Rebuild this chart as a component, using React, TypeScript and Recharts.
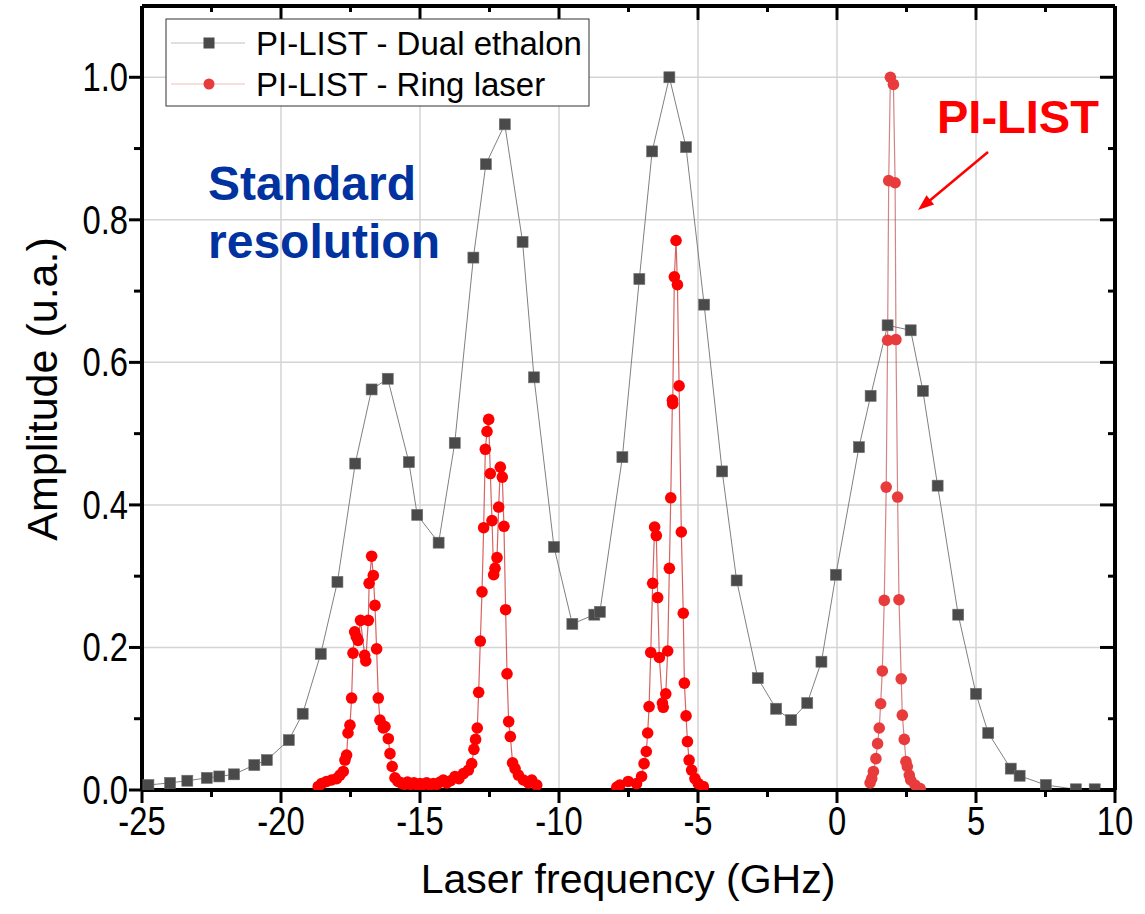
import { LineChart, Line, XAxis, YAxis, ReferenceLine } from "recharts";

// PI-LIST - Dual ethalon (black squares)
const dualX = [
  -24.77, -23.99, -23.37, -22.67, -22.22, -21.69, -20.96, -20.51, -19.72, -19.22,
  -18.57, -17.97, -17.33, -16.74, -16.16, -15.4, -15.1, -14.33, -13.75, -13.08,
  -12.63, -11.95, -11.31, -10.9, -10.18, -9.52, -8.73, -8.53, -7.72, -7.11,
  -6.65, -6.03, -5.43, -4.78, -4.13, -3.61, -2.85, -2.19, -1.65, -1.07,
  -0.56, -0.04, 0.79, 1.21, 1.82, 2.65, 3.09, 3.62, 4.36, 5.0,
  5.44, 6.25, 6.57, 7.51, 8.59, 9.27,
];
const dualY = [
  0.007, 0.01, 0.013, 0.017, 0.019, 0.022, 0.035, 0.042, 0.07, 0.107,
  0.191, 0.292, 0.458, 0.562, 0.577, 0.46, 0.386, 0.347, 0.487, 0.747,
  0.878, 0.934, 0.769, 0.579, 0.341, 0.233, 0.246, 0.25, 0.467, 0.717,
  0.896, 1.0, 0.902, 0.681, 0.447, 0.294, 0.157, 0.114, 0.098, 0.122,
  0.18, 0.302, 0.481, 0.553, 0.652, 0.645, 0.56, 0.427, 0.246, 0.135,
  0.08, 0.03, 0.02, 0.007, 0.001, 0.001,
];

// PI-LIST - Ring laser, first three peaks (null breaks the trace)
const ringX = [
  -18.66, -18.54, -18.36, -18.18, -18.0, -17.88, -17.76, -17.7, -17.64, -17.59,
  -17.52, -17.46, -17.41, -17.35, -17.29, -17.23, -17.14, -16.99, -16.95, -16.86,
  -16.83, -16.74, -16.68, -16.62, -16.56, -16.5, -16.44, -16.32, -16.26, -16.14,
  -16.08, -16.0, -15.9, -15.79, -15.68, -15.56, -15.45, -15.34, -15.22, -15.1,
  -15.0, -14.88, -14.76, -14.64, -14.52, -14.4, -14.28, -14.16, -14.04, -13.9,
  -13.74, -13.6, -13.44, -13.26, -13.14, -13.06, -13.0, -12.94, -12.89, -12.83,
  -12.77, -12.71, -12.65, -12.59, -12.53, -12.47, -12.41, -12.35, -12.3, -12.23,
  -12.17, -12.11, -12.04, -11.98, -11.92, -11.87, -11.81, -11.75, -11.67, -11.58,
  -11.46, -11.28, -11.1, -10.98, -10.8, -9.0,
  -7.92, -7.81, -7.51, -7.21, -7.03, -6.94, -6.86, -6.81, -6.76, -6.7,
  -6.63, -6.56, -6.5, -6.45, -6.39, -6.28, -6.25, -6.16, -6.09, -6.03,
  -5.98, -5.92, -5.91, -5.85, -5.79, -5.74, -5.68, -5.6, -5.53, -5.49,
  -5.43, -5.38, -5.32, -5.23, -5.11, -4.99, -4.81,
];
const ringY = [
  0.005, 0.009, 0.012, 0.014, 0.016, 0.021, 0.026, 0.042, 0.049, 0.08,
  0.091, 0.129, 0.192, 0.222, 0.215, 0.21, 0.238, 0.189, 0.181, 0.238,
  0.29, 0.328, 0.301, 0.259, 0.198, 0.129, 0.098, 0.087, 0.089, 0.072,
  0.051, 0.033, 0.017, 0.012, 0.01, 0.008, 0.011, 0.008, 0.01, 0.007,
  0.009, 0.008, 0.01, 0.007, 0.009, 0.008, 0.011, 0.014, 0.01, 0.013,
  0.019, 0.016, 0.023, 0.028, 0.037, 0.057, 0.071, 0.087, 0.137, 0.209,
  0.278, 0.368, 0.478, 0.503, 0.52, 0.444, 0.378, 0.302, 0.311, 0.326,
  0.397, 0.453, 0.439, 0.37, 0.253, 0.163, 0.096, 0.075, 0.038, 0.03,
  0.021, 0.014, 0.01, 0.014, 0.007, null,
  0.004, 0.007, 0.012, 0.009, 0.019, 0.037, 0.054, 0.08, 0.117, 0.193,
  0.29, 0.369, 0.357, 0.27, 0.186, 0.122, 0.116, 0.135, 0.195, 0.311,
  0.41, 0.547, 0.542, 0.72, 0.771, 0.709, 0.567, 0.362, 0.248, 0.15,
  0.104, 0.068, 0.042, 0.028, 0.016, 0.009, 0.005,
];

// PI-LIST peak near 2 GHz
const piX = [
  1.19, 1.25, 1.31, 1.4, 1.46, 1.52, 1.57, 1.63, 1.7, 1.77,
  1.82, 1.86, 1.92, 2.03, 2.09, 2.12, 2.18, 2.23, 2.31, 2.35,
  2.42, 2.48, 2.53, 2.6, 2.65, 2.81, 2.99,
];
const piY = [
  0.01, 0.016, 0.026, 0.044, 0.065, 0.087, 0.121, 0.167, 0.266, 0.425,
  0.631, 0.855, 1.0, 0.99, 0.852, 0.632, 0.411, 0.267, 0.156, 0.105,
  0.071, 0.04, 0.033, 0.021, 0.014, 0.007, 0.002,
];

const xTicks = [-25, -22.5, -20, -17.5, -15, -12.5, -10, -7.5, -5, -2.5, 0, 2.5, 5, 7.5, 10];
const yTicks = [0, 0.1, 0.2, 0.3, 0.4, 0.5, 0.6, 0.7, 0.8, 0.9, 1.0];
const xGrid = [-20, -15, -10, -5, 0, 5];
const yGrid = [0.2, 0.4, 0.6, 0.8, 1.0];

const dual = dualX.map((x, i) => ({ x, y: dualY[i] }));
const ring = ringX.map((x, i) => ({ x, y: ringY[i] }));
const pi = piX.map((x, i) => ({ x, y: piY[i] }));

const FONT = "'Liberation Sans', Arial, sans-serif";
const xMajor = (v: number) => Math.abs(v % 5) < 1e-6;
const yMajor = (v: number) => Math.round(v * 10) % 2 === 0;
const frame = { stroke: "#000", strokeWidth: 4 };

function BottomTick({ x, y, payload }: any) {
  const m = xMajor(payload.value);
  return (
    <g>
      <line x1={x} x2={x} y1={y} y2={y + (m ? 13 : 7)} stroke="#000" strokeWidth={3} />
      {m && (
        <text transform={`translate(${x},${y + 45}) scale(0.82,1)`} textAnchor="middle" fontSize={40} fontFamily={FONT} fill="#000">
          {String(payload.value)}
        </text>
      )}
    </g>
  );
}

function TopTick({ x, y, payload }: any) {
  const m = xMajor(payload.value);
  return <line x1={x} x2={x} y1={y} y2={y + (m ? 14 : 6)} stroke="#000" strokeWidth={3} />;
}

function LeftTick({ x, y, payload }: any) {
  const m = yMajor(payload.value);
  return (
    <g>
      <line x1={x} x2={x - (m ? 13 : 8)} y1={y} y2={y} stroke="#000" strokeWidth={3} />
      {m && (
        <text transform={`translate(${x - 14},${y + 14}) scale(0.82,1)`} textAnchor="end" fontSize={40} fontFamily={FONT} fill="#000">
          {payload.value.toFixed(1)}
        </text>
      )}
    </g>
  );
}

function RightTick({ x, y, payload }: any) {
  const m = yMajor(payload.value);
  return <line x1={x} x2={x - (m ? 15 : 7)} y1={y} y2={y} stroke="#000" strokeWidth={3} />;
}

const squareDot = (p: any) =>
  p.cy == null ? (
    <g key={`s${p.index}`} />
  ) : (
    <rect key={`s${p.index}`} x={p.cx - 5.5} y={p.cy - 5.5} width={11} height={11} fill="#4a4a4a" stroke="#707070" strokeWidth={0.6} />
  );

const redDot = (color: string) => (p: any) =>
  p.cy == null ? <g key={`r${p.index}`} /> : <circle key={`r${p.index}`} cx={p.cx} cy={p.cy} r={5.8} fill={color} />;

export default function App() {
  return (
    <div style={{ position: "absolute", left: 0, top: 0, width: 1145, height: 914, background: "#fff" }}>
      <LineChart width={1145} height={914} margin={{ top: 5, right: 29, left: 0, bottom: 0 }}>
        <XAxis
          type="number"
          dataKey="x"
          domain={[-25, 10]}
          ticks={xTicks}
          interval={0}
          height={124}
          tickSize={0}
          tickMargin={0}
          tickLine={false}
          tick={<BottomTick />}
          axisLine={frame}
          allowDataOverflow
        />
        <XAxis
          xAxisId="top"
          orientation="top"
          type="number"
          dataKey="x"
          domain={[-25, 10]}
          ticks={xTicks}
          interval={0}
          height={1}
          tickSize={0}
          tickMargin={0}
          tickLine={false}
          tick={<TopTick />}
          axisLine={frame}
          allowDataOverflow
        />
        <YAxis
          type="number"
          domain={[0, 1.1]}
          ticks={yTicks}
          interval={0}
          width={142}
          tickSize={0}
          tickMargin={0}
          tickLine={false}
          tick={<LeftTick />}
          axisLine={frame}
          allowDataOverflow
        />
        <YAxis
          yAxisId="right"
          orientation="right"
          type="number"
          domain={[0, 1.1]}
          ticks={yTicks}
          interval={0}
          width={1}
          tickSize={0}
          tickMargin={0}
          tickLine={false}
          tick={<RightTick />}
          axisLine={frame}
          allowDataOverflow
        />
        {xGrid.map((v) => (
          <ReferenceLine key={`gx${v}`} x={v} stroke="#d4d4d4" strokeWidth={1.5} />
        ))}
        {yGrid.map((v) => (
          <ReferenceLine key={`gy${v}`} y={v} stroke="#d4d4d4" strokeWidth={1.5} />
        ))}
        {/* invisible series so the mirrored frame axes are drawn */}
        <Line
          data={dual}
          dataKey="y"
          xAxisId="top"
          yAxisId="right"
          stroke="none"
          dot={false}
          activeDot={false}
          legendType="none"
          isAnimationActive={false}
        />
        <Line
          data={dual}
          dataKey="y"
          type="linear"
          stroke="#808080"
          strokeWidth={1}
          dot={squareDot}
          activeDot={false}
          isAnimationActive={false}
        />
        <Line
          data={ring}
          dataKey="y"
          type="linear"
          stroke="#c83030"
          strokeWidth={1.2}
          strokeOpacity={0.75}
          dot={redDot("#ff0000")}
          activeDot={false}
          isAnimationActive={false}
        />
        <Line
          data={pi}
          dataKey="y"
          type="linear"
          stroke="#c05050"
          strokeWidth={1.2}
          strokeOpacity={0.7}
          dot={redDot("#e83c3c")}
          activeDot={false}
          isAnimationActive={false}
        />
      </LineChart>

      <svg width={1145} height={914} style={{ position: "absolute", left: 0, top: 0, pointerEvents: "none" }} fontFamily={FONT}>
        <rect x={166} y={19} width={423} height={87} fill="#fff" stroke="#333" strokeWidth={1} />
        <line x1={171} x2={245} y1={43} y2={43} stroke="#c0c0c0" strokeWidth={1} />
        <rect x={203.5} y={37.5} width={11} height={11} fill="#4a4a4a" />
        <text x={256} y={55} fontSize={33} fill="#000">PI-LIST - Dual ethalon</text>
        <line x1={171} x2={245} y1={84} y2={84} stroke="#e8c0c0" strokeWidth={1} />
        <circle cx={209} cy={84} r={5.5} fill="#e83c3c" />
        <text x={256} y={96} fontSize={33} fill="#000">PI-LIST - Ring laser</text>

        <text x={208} y={200} fontSize={48} fontWeight="bold" fill="#0033a0">Standard</text>
        <text x={208} y={258} fontSize={48} fontWeight="bold" fill="#0033a0">resolution</text>

        <text x={937} y={133} fontSize={47} fontWeight="bold" fill="#ff0000">PI-LIST</text>
        <line x1={988} y1={152} x2={928} y2={202} stroke="#ff0000" strokeWidth={2.5} />
        <polygon points="918,210 934.1,204.4 926.5,195.2" fill="#ff0000" />

        <text x={628} y={893} textAnchor="middle" fontSize={41} fill="#000">Laser frequency (GHz)</text>
        <text transform="translate(57,389) rotate(-90)" textAnchor="middle" fontSize={43} fill="#000">Amplitude (u.a.)</text>
      </svg>
    </div>
  );
}
